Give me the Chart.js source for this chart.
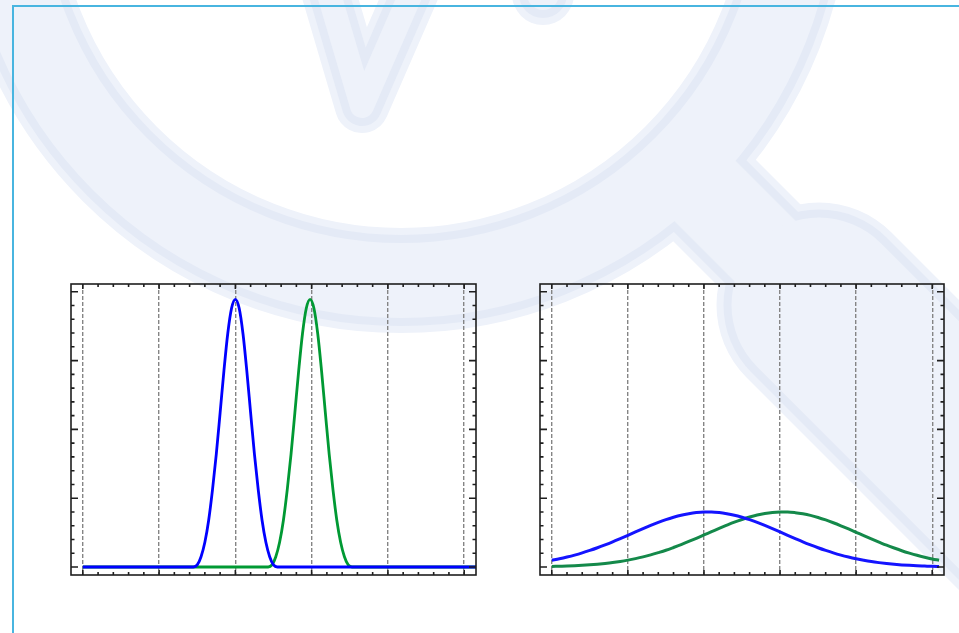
<!DOCTYPE html>
<html lang="en">
  <head>
    <meta charset="UTF-8" />
    <title>Gaussian peaks</title>
    <script src="https://cdn.jsdelivr.net/npm/chart.js@4.4.1/dist/chart.umd.min.js"></script>
    <style>
      html, body { margin: 0; padding: 0; background: #fff; overflow: hidden; }
      #bg { position: absolute; left: 0; top: 0; }
      .frame {
        position: absolute; left: 12px; top: 5px; width: 1000px; height: 700px;
        border-left: 2px solid #48b5e0; border-top: 2px solid #48b5e0;
      }
      .panel { position: absolute; top: 274px; }
    </style>
  </head>
  <body>
    <canvas id="bg" width="959" height="633"></canvas>
    <div class="frame"></div>
    <canvas id="leftChart" class="panel" style="left:61px" width="425" height="311"></canvas>
    <canvas id="rightChart" class="panel" style="left:530px" width="424" height="311"></canvas>

    <script>
      // axis ticks (no labels are printed in the picture)
      const xMajor = [0, 1, 2, 3, 4, 5];
      const yMajor = [0, 0.1, 0.2, 0.3, 0.4];
      const xRange = [-0.155, 5.155];
      const yRange = [-0.0116, 0.4113];

      // left panel: two narrow peaks
      const leftBlueX = [0, 1.45, 1.50, 1.55, 1.60, 1.65, 1.70, 1.75, 1.80, 1.85, 1.90, 1.95, 2.00,
        2.05, 2.10, 2.15, 2.20, 2.25, 2.30, 2.35, 2.40, 2.45, 2.50, 2.55, 5.30];
      const leftBlueY = [0, 0, 0.003, 0.015, 0.036, 0.068, 0.112, 0.164, 0.224, 0.285, 0.339, 0.376, 0.389,
        0.376, 0.339, 0.285, 0.224, 0.164, 0.112, 0.068, 0.036, 0.015, 0.003, 0, 0];
      const leftGreenX = [0, 2.43, 2.48, 2.53, 2.58, 2.63, 2.68, 2.73, 2.78, 2.83, 2.88, 2.93, 2.98,
        3.03, 3.08, 3.13, 3.18, 3.23, 3.28, 3.33, 3.38, 3.43, 3.48, 3.53, 5.30];
      const leftGreenY = [0, 0, 0.003, 0.015, 0.036, 0.068, 0.112, 0.164, 0.224, 0.285, 0.339, 0.376, 0.389,
        0.376, 0.339, 0.285, 0.224, 0.164, 0.112, 0.068, 0.036, 0.015, 0.003, 0, 0];

      // right panel: two wide peaks
      const rightX = [0, 0.1, 0.2, 0.3, 0.4, 0.5, 0.6, 0.7, 0.8, 0.9, 1.0, 1.1, 1.2, 1.3, 1.4, 1.5, 1.6, 1.7, 1.8, 1.9,
        2.0, 2.1, 2.2, 2.3, 2.4, 2.5, 2.6, 2.7, 2.8, 2.9, 3.0, 3.1, 3.2, 3.3, 3.4, 3.5, 3.6, 3.7, 3.8, 3.9,
        4.0, 4.1, 4.2, 4.3, 4.4, 4.5, 4.6, 4.7, 4.8, 4.9, 5.0, 5.09];
      const rightBlueY = [0.0098, 0.0120, 0.0145, 0.0173, 0.0205, 0.0241, 0.0280, 0.0322, 0.0366, 0.0413,
        0.0461, 0.0510, 0.0558, 0.0604, 0.0648, 0.0688, 0.0723, 0.0753, 0.0775, 0.0791,
        0.0799, 0.0799, 0.0791, 0.0775, 0.0753, 0.0723, 0.0688, 0.0648, 0.0604, 0.0558,
        0.0510, 0.0461, 0.0413, 0.0366, 0.0322, 0.0280, 0.0241, 0.0205, 0.0173, 0.0145,
        0.0120, 0.0098, 0.0079, 0.0064, 0.0051, 0.0040, 0.0031, 0.0024, 0.0018, 0.0014, 0.0010, 0.0008];
      const rightGreenY = [0.0008, 0.0011, 0.0014, 0.0019, 0.0025, 0.0032, 0.0041, 0.0052, 0.0065, 0.0081,
        0.0100, 0.0122, 0.0147, 0.0176, 0.0209, 0.0244, 0.0284, 0.0326, 0.0371, 0.0418,
        0.0466, 0.0514, 0.0562, 0.0608, 0.0652, 0.0691, 0.0726, 0.0755, 0.0777, 0.0792,
        0.0799, 0.0799, 0.0790, 0.0773, 0.0750, 0.0720, 0.0684, 0.0643, 0.0599, 0.0553,
        0.0505, 0.0456, 0.0408, 0.0362, 0.0317, 0.0276, 0.0237, 0.0202, 0.0170, 0.0142, 0.0117, 0.0098];

      // faint logo watermark behind everything
      const bg = document.getElementById("bg").getContext("2d");
      function logo(ctx, shrink, color) {
        ctx.strokeStyle = color;
        ctx.fillStyle = color;
        ctx.lineJoin = "round";
        // ring
        ctx.lineWidth = 105 - 2 * shrink;
        ctx.beginPath();
        ctx.arc(401, -117, 397.5, 0, Math.PI * 2);
        ctx.stroke();
        // neck
        ctx.lineCap = "butt";
        ctx.lineWidth = 116 - 2 * shrink;
        ctx.beginPath();
        ctx.moveTo(655, 141);
        ctx.lineTo(819, 305);
        ctx.stroke();
        // grip
        ctx.lineCap = "round";
        ctx.lineWidth = 205 - 2 * shrink;
        ctx.beginPath();
        ctx.moveTo(819, 305);
        ctx.lineTo(1250, 736);
        ctx.stroke();
        // V
        ctx.lineWidth = 54 - 2 * shrink;
        ctx.beginPath();
        ctx.moveTo(316, -50);
        ctx.lineTo(362, 106);
        ctx.lineTo(430, -50);
        ctx.stroke();
        // dot
        ctx.beginPath();
        ctx.arc(543, -6, 31 - shrink, 0, Math.PI * 2);
        ctx.fill();
      }
      logo(bg, 0, "#eef2fa");
      logo(bg, 7, "#e4eaf6");
      logo(bg, 15, "#eef2fa");

      // frame and inward ticks drawn through the scales
      const inTicks = {
        id: "inTicks",
        afterDatasetsDraw(chart) {
          const { ctx, chartArea: a, scales } = chart;
          const x = scales.x, y = scales.y;
          ctx.save();
          ctx.strokeStyle = "#1e1e1e";
          ctx.lineWidth = 1.6;
          ctx.beginPath();
          const xStep = xMajor[1] - xMajor[0];
          for (let v = xMajor[0] - xStep; v <= xMajor[xMajor.length - 1] + xStep + 1e-9; v += xStep / 5) {
            if (v < xRange[0] || v > xRange[1]) continue;
            const major = xMajor.some(m => Math.abs(m - v) < 1e-6);
            const len = major ? 5 : 3;
            const px = x.getPixelForValue(v);
            ctx.moveTo(px, a.bottom); ctx.lineTo(px, a.bottom - len);
            ctx.moveTo(px, a.top); ctx.lineTo(px, a.top + len);
          }
          const yStep = yMajor[1] - yMajor[0];
          for (let v = yMajor[0] - yStep; v <= yMajor[yMajor.length - 1] + yStep + 1e-9; v += yStep / 5) {
            if (v < yRange[0] || v > yRange[1]) continue;
            const major = yMajor.some(m => Math.abs(m - v) < 1e-6);
            const len = major ? 7 : 3.5;
            const py = y.getPixelForValue(v);
            ctx.moveTo(a.left, py); ctx.lineTo(a.left + len, py);
            ctx.moveTo(a.right, py); ctx.lineTo(a.right - len, py);
          }
          ctx.stroke();
          ctx.strokeRect(a.left, a.top, a.right - a.left, a.bottom - a.top);
          ctx.restore();
        }
      };

      function toPoints(xs, ys) {
        return xs.map((v, i) => ({ x: v, y: ys[i] }));
      }

      function makeChart(id, series) {
        return new Chart(document.getElementById(id), {
          type: "line",
          data: {
            datasets: series.map(s => ({
              data: toPoints(s.x, s.y),
              borderColor: s.color,
              borderWidth: s.width,
              pointRadius: 0,
              cubicInterpolationMode: "monotone",
              fill: false
            }))
          },
          options: {
            responsive: false,
            animation: false,
            layout: { padding: 10 },
            plugins: { legend: { display: false }, tooltip: { enabled: false } },
            scales: {
              x: {
                type: "linear",
                min: xRange[0],
                max: xRange[1],
                afterBuildTicks: s => { s.ticks = xMajor.map(v => ({ value: v })); },
                ticks: { display: false },
                grid: { color: "#858585", lineWidth: 1.4, drawTicks: false },
                border: { display: false, dash: [4, 2] }
              },
              y: {
                type: "linear",
                min: yRange[0],
                max: yRange[1],
                afterBuildTicks: s => { s.ticks = yMajor.map(v => ({ value: v })); },
                ticks: { display: false },
                grid: { display: false, drawTicks: false },
                border: { display: false }
              }
            }
          },
          plugins: [inTicks]
        });
      }

      makeChart("leftChart", [
        { x: leftBlueX, y: leftBlueY, color: "#0000ff", width: 2.8 },
        { x: leftGreenX, y: leftGreenY, color: "#009933", width: 2.8 }
      ]);
      makeChart("rightChart", [
        { x: rightX, y: rightBlueY, color: "#1414ff", width: 3 },
        { x: rightX, y: rightGreenY, color: "#14894a", width: 3 }
      ]);
    </script>
  </body>
</html>
